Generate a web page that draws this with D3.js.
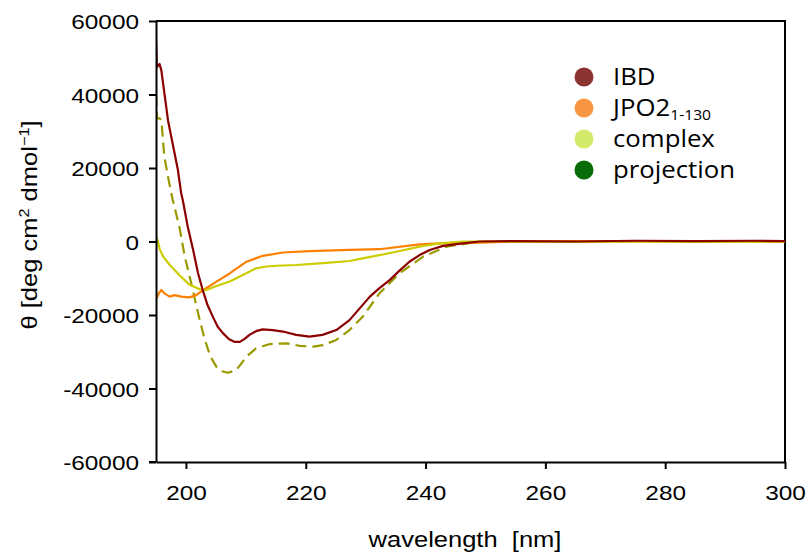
<!DOCTYPE html>
<html>
<head>
<meta charset="utf-8">
<script src="https://cdn.jsdelivr.net/npm/d3@7"></script>
<style>
  body { margin: 0; background: #fff; }
  svg { display: block; }
  .axis text { font-family: "Liberation Sans", Arial, sans-serif; font-size: 21px; fill: #000; }
  .axis path, .axis line { stroke: #000; stroke-width: 2px; }
  .title { font-family: "Liberation Sans", Arial, sans-serif; font-size: 22px; fill: #000; }
  .legend text { font-family: "Open Sans", sans-serif; font-size: 23px; fill: #000; }
</style>
</head>
<body>
<svg width="807" height="552"></svg>
<script>
// [wavelength nm, theta]
const ibd = [[195.0, 55000], [195.15, 47500], [195.6, 48300], [195.9, 46500], [196.4, 40400], [197.0, 33000],
  [197.55, 28500], [198.1, 24000], [198.65, 19500], [199.2, 13200], [199.5, 11000], [200.3, 4000], [201.2, -2300],
  [202.0, -8500], [202.8, -13200], [203.6, -17300], [204.5, -20500], [205.3, -23200], [206.2, -25000], [207.2, -26600],
  [208.1, -27300], [209.0, -27300], [209.8, -26500], [210.6, -25400], [211.7, -24400], [212.8, -23900], [214.5, -24100],
  [216.2, -24500], [218.4, -25400], [220.6, -25900], [222.8, -25400], [225.1, -24100], [227.3, -21400], [229.0, -18200],
  [230.7, -15000], [232.3, -12700], [234.0, -10500], [235.6, -8000], [237.3, -5500], [239.0, -3700], [240.7, -2300],
  [242.9, -1200], [246.2, -500], [249, 0], [255, 100], [265, 0], [275, 200], [285, 100], [295, 200], [300, 100]];

const jpo2 = [[195.0, -15900], [195.5, -14000], [195.9, -13200], [196.4, -14100], [197.3, -15000], [198.1, -14600],
  [199.2, -15000], [200.6, -15200], [201.7, -14600], [203.1, -13000], [205.1, -10900], [207.3, -8700], [210.1, -5500],
  [212.8, -3900], [216.2, -3000], [220.6, -2600], [227.3, -2300], [232.3, -2100], [239.0, -800], [242.4, -500],
  [249, -300], [255, 0], [265, 100], [275, 0], [285, 100], [300, 0]];

const complex = [[195.0, 500], [195.05, 1300], [195.3, 0], [195.6, -2000], [196.2, -4100], [197.3, -6400],
  [198.9, -9100], [200.6, -11800], [202.3, -13000], [203.4, -13200], [205.1, -12100], [207.3, -10900], [209.5, -9100],
  [211.7, -7300], [213.4, -6800], [215.1, -6600], [218.4, -6400], [222.9, -5900], [227.3, -5300], [229.5, -4600],
  [235.1, -2800], [239.6, -1200], [242.4, -500], [246.2, 0], [255, 0], [265, -100], [275, 0], [285, -100], [300, 0]];

const projection = [[195.0, 39900], [195.2, 33500], [195.6, 33500], [195.9, 33000], [196.2, 26800], [196.4, 23100],
  [197.0, 17600], [197.55, 13200], [197.8, 11300], [198.9, 4000], [199.8, -4100], [200.9, -11400], [201.6, -16500],
  [202.3, -21400], [203.0, -25800], [203.7, -29500], [204.4, -32200], [205.1, -34100], [206.0, -35300], [207.0, -35700],
  [208.4, -35000], [209.2, -33300], [210.1, -31300], [211.7, -29100], [214.0, -27900], [216.8, -27700], [219.0, -28400],
  [221.2, -28600], [222.9, -28200], [225.1, -26800], [227.3, -24100], [229.5, -20500], [232.3, -14100], [235.6, -8700],
  [239.6, -4100], [243.5, -1400], [247.9, -300], [250, 0], [260, 0], [270, 100], [280, 100], [290, 100], [300, 0]];

const xTicks = [200, 220, 240, 260, 280, 300];
const yTicks = [-60000, -40000, -20000, 0, 20000, 40000, 60000];

const legendNames = ["IBD", "JPO2", "complex", "projection"];
const legendColors = ["#8c3333", "#f89646", "#d4ea6b", "#076b07"];

const series = [
  { name: "projection", data: projection, color: "#9a9a00", dash: "11,6" },
  { name: "JPO2", data: jpo2, color: "#ff8000", dash: null },
  { name: "complex", data: complex, color: "#cccc00", dash: null },
  { name: "IBD", data: ibd, color: "#8b0000", dash: null },
];

const svg = d3.select("svg");
const plotLeft = 156, plotRight = 785, plotTop = 21, plotBottom = 462;
const stretch = 1.16;

const x = d3.scaleLinear().domain([195, 300]).range([plotLeft, plotRight]);
const y = d3.scaleLinear().domain([-60000, 60000]).range([plotBottom, plotTop]);

svg.append("defs").append("clipPath").attr("id", "plot")
  .append("rect").attr("x", plotLeft).attr("y", plotTop)
  .attr("width", plotRight - plotLeft).attr("height", plotBottom - plotTop);

// frame on top and right
svg.append("path")
  .attr("d", `M${plotLeft},${plotTop}H${plotRight}V${plotBottom}`)
  .attr("fill", "none").attr("stroke", "#000").attr("stroke-width", 2);

const line = d3.line().x(d => x(d[0])).y(d => y(d[1]));

svg.append("g").attr("clip-path", "url(#plot)")
  .selectAll("path")
  .data(series)
  .join("path")
  .attr("d", d => line(d.data))
  .attr("fill", "none")
  .attr("stroke", d => d.color)
  .attr("stroke-width", 2.2)
  .attr("stroke-dasharray", d => d.dash)
  .attr("stroke-linejoin", "round");

const xAxis = svg.append("g").attr("class", "axis")
  .attr("transform", `translate(0,${plotBottom})`)
  .call(d3.axisBottom(x).tickValues(xTicks).tickSize(7).tickSizeOuter(0).tickFormat(d => String(d)));
xAxis.selectAll("text").attr("y", 38).attr("dy", null)
  .attr("transform", `scale(${stretch},1)`);

const yAxis = svg.append("g").attr("class", "axis")
  .attr("transform", `translate(${plotLeft},0)`)
  .call(d3.axisLeft(y).tickValues(yTicks).tickSize(7).tickSizeOuter(0).tickFormat(d => String(d)));
yAxis.selectAll("text").attr("x", -17 / stretch).attr("dy", "0.36em")
  .attr("transform", `scale(${stretch},1)`);

// x axis line reaches left to the tick end
svg.append("line").attr("x1", plotLeft - 7).attr("x2", plotLeft).attr("y1", plotBottom).attr("y2", plotBottom)
  .attr("stroke", "#000").attr("stroke-width", 2);

svg.append("text").attr("class", "title")
  .attr("transform", `translate(465,547) scale(${stretch},1)`)
  .attr("text-anchor", "middle")
  .attr("xml:space", "preserve")
  .text("wavelength  [nm]");

const yt = svg.append("text").attr("class", "title")
  .attr("transform", `translate(37,225) rotate(-90) scale(${stretch},1)`)
  .attr("text-anchor", "middle");
yt.append("tspan").text("θ [deg cm");
yt.append("tspan").attr("font-size", 14).attr("dy", -8).text("2");
yt.append("tspan").attr("dy", 8).text(" dmol");
yt.append("tspan").attr("font-size", 14).attr("dy", -8).text("−1");
yt.append("tspan").attr("dy", 8).text("]");

const legend = svg.append("g").attr("class", "legend")
  .selectAll("g")
  .data(legendNames)
  .join("g")
  .attr("transform", (d, i) => `translate(584,${77 + i * 31})`);
legend.append("circle").attr("r", 9.5).attr("fill", (d, i) => legendColors[i]);
const lt = legend.append("text").attr("transform", `translate(29,8) scale(1.12,1)`);
lt.each(function (d) {
  const t = d3.select(this);
  if (d === "JPO2") {
    t.append("tspan").text("JPO2");
    t.append("tspan").attr("font-size", 14).attr("dy", 4).text("1-130");
  } else {
    t.text(d);
  }
});
</script>
</body>
</html>
